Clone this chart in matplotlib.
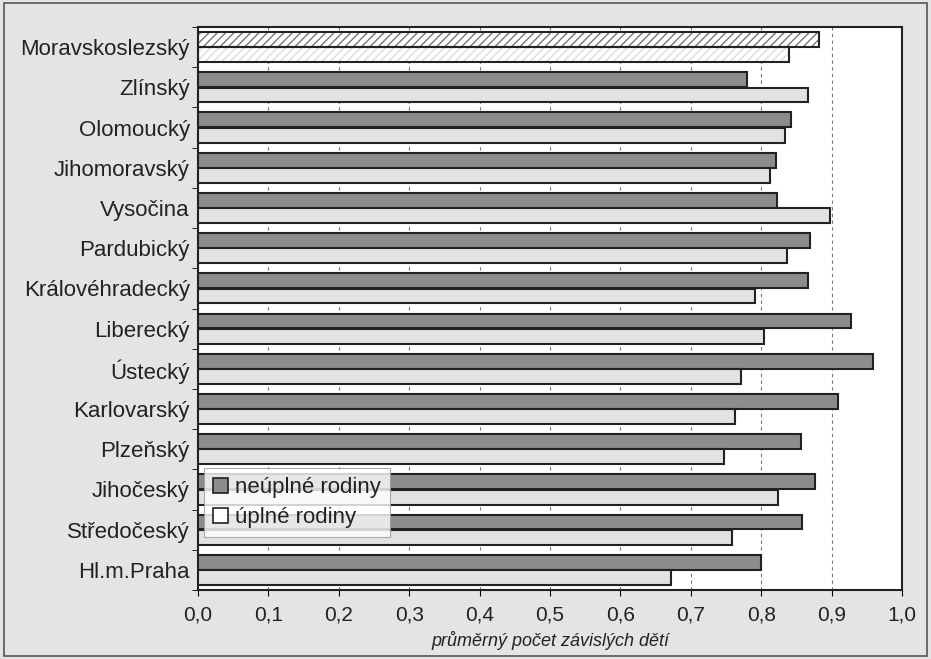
import numpy as np
import matplotlib.pyplot as plt
from matplotlib.patches import Rectangle, Patch

plt.rcParams['font.family'] = ['Liberation Sans', 'DejaVu Sans']

# kraje shora dolu
kraje = ["Moravskoslezský", "Zlínský", "Olomoucký", "Jihomoravský", "Vysočina",
         "Pardubický", "Královéhradecký", "Liberecký", "Ústecký", "Karlovarský",
         "Plzeňský", "Jihočeský", "Středočeský", "Hl.m.Praha"]
neuplne = [0.882, 0.780, 0.842, 0.821, 0.822, 0.869, 0.866, 0.927, 0.958, 0.909,
           0.856, 0.876, 0.858, 0.800]
uplne = [0.840, 0.867, 0.833, 0.813, 0.897, 0.836, 0.791, 0.804, 0.771, 0.762,
         0.747, 0.824, 0.759, 0.672]
xticks = [0.0, 0.1, 0.2, 0.3, 0.4, 0.5, 0.6, 0.7, 0.8, 0.9, 1.0]
xticklabels = ["0,0", "0,1", "0,2", "0,3", "0,4", "0,5", "0,6", "0,7", "0,8", "0,9", "1,0"]

dark = "#8c8c8c"
light = "#e2e2e2"

fig = plt.figure(figsize=(9.31, 6.59), dpi=100, facecolor="#e4e4e4")
fig.patches.append(Rectangle((0.004, 0.005), 0.992, 0.99, transform=fig.transFigure,
                             fill=False, edgecolor="#555555", linewidth=1.2))
ax = fig.add_axes([0.2127, 0.1047, 0.7563, 0.8543])

n = len(kraje)
pos = np.arange(n)[::-1]
h = 0.37
off = 0.19

for i in range(n):
    y1 = pos[i] + off
    y2 = pos[i] - off
    if i == 0:
        # Moravskoslezsky je srafovany
        ax.barh(y1, neuplne[i], height=h, color="white", edgecolor="#777777",
                hatch="////", linewidth=0, zorder=2)
        ax.barh(y1, neuplne[i], height=h, fill=False, edgecolor="#222222",
                linewidth=1.5, zorder=3)
        ax.barh(y2, uplne[i], height=h, color="white", edgecolor="#dddddd",
                hatch="////", linewidth=0, zorder=2)
        ax.barh(y2, uplne[i], height=h, fill=False, edgecolor="#222222",
                linewidth=1.5, zorder=3)
    else:
        ax.barh(y1, neuplne[i], height=h, color=dark, edgecolor="#222222",
                linewidth=1.5, zorder=3)
        ax.barh(y2, uplne[i], height=h, color=light, edgecolor="#222222",
                linewidth=1.5, zorder=3)

ax.set_xlim(0, 1.0)
ax.set_ylim(-0.5, n - 0.5)
ax.set_yticks(pos)
ax.set_yticklabels(kraje, fontsize=16, color="#222222")
ax.set_yticks(np.arange(n + 1) - 0.5, minor=True)
ax.tick_params(axis="y", which="major", length=0, pad=6)
ax.tick_params(axis="y", which="minor", length=4, direction="out")
ax.set_xticks(xticks)
ax.set_xticklabels(xticklabels, fontsize=15, color="#222222")
ax.tick_params(axis="x", length=4, pad=7)
ax.set_xlabel("průměrný počet závislých dětí", fontsize=13, style="italic",
              labelpad=5, color="#222222")
ax.grid(axis="x", linestyle=(0, (3, 3)), color="#777777", linewidth=0.8, zorder=0)
ax.set_axisbelow(True)
for s in ax.spines.values():
    s.set_linewidth(1.5)
    s.set_color("#222222")

handles = [Patch(facecolor=dark, edgecolor="#222222", linewidth=1.2, label="neúplné rodiny"),
           Patch(facecolor="white", edgecolor="#222222", linewidth=1.2, label="úplné rodiny")]
leg = ax.legend(handles=handles, loc="lower left", bbox_to_anchor=(0.008, 0.094),
                fontsize=16, frameon=True, fancybox=False, handlelength=0.7,
                handleheight=0.7, handletextpad=0.3, borderpad=0.4, labelspacing=0.4,
                borderaxespad=0)
leg.get_frame().set_edgecolor("#999999")
leg.get_frame().set_linewidth(0.8)
for t in leg.get_texts():
    t.set_color("#222222")

fig.savefig("out.png", dpi=100, facecolor=fig.get_facecolor())
